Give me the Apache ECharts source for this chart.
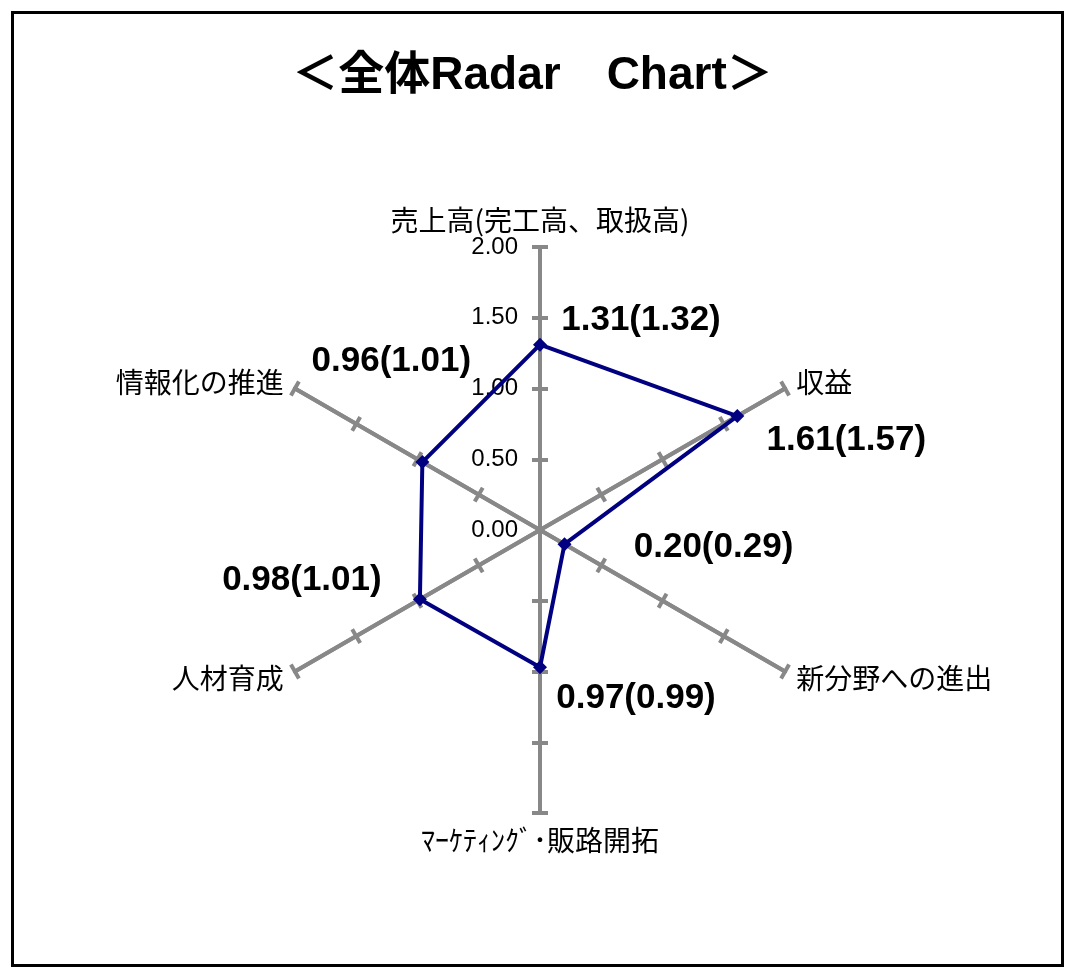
<!DOCTYPE html>
<html>
<head>
<meta charset="utf-8">
<script src="https://cdn.jsdelivr.net/npm/echarts@6/dist/echarts.min.js"></script>
<style>
	html, body { margin: 0; padding: 0; background: #fff; }
	#main { width: 1065px; height: 967px; }
</style>
</head>
<body>
<div id="main"></div>
<script>
// axes in drawing order (counter-clockwise from the top)
var axisNames = ['売上高(完工高、取扱高)', '情報化の推進', '人材育成', 'ﾏｰｹﾃｨﾝｸﾞ･販路開拓', '新分野への進出', '収益'];
var currentValues = [1.31, 0.96, 0.98, 0.97, 0.20, 1.61];
var previousValues = [1.32, 1.01, 1.01, 0.99, 0.29, 1.57];
var tickLabels = [0, 0.5, 1, 1.5, 2];

// where each value label sits, relative to its point
var labelOffsets = [[101, -24], [-31, -101], [-118, -19], [96, 31], [149, 3], [109, 24]];

var latinFont = "'Liberation Sans', 'Noto Sans CJK JP', sans-serif";
var cjkFont = "'Noto Sans CJK JP', sans-serif";

var myChart = echarts.init(document.getElementById('main'));

var indicators = axisNames.map(function(n) {
	return { name: n, min: 0, max: 2 };
});

var baseRadar = {
	center: [540, 530],
	radius: 283,
	startAngle: 90,
	splitNumber: 4,
	shape: 'polygon',
	indicator: indicators,
	splitLine: { show: false },
	splitArea: { show: false },
	axisLabel: { show: false },
	axisLine: { lineStyle: { color: '#888', width: 4 } }
};

var series = [{
	type: 'radar',
	radarIndex: 0,
	z: 5,
	symbol: 'diamond',
	symbolSize: 14,
	lineStyle: { color: '#000080', width: 4 },
	itemStyle: { color: '#000080' },
	label: { show: false },
	data: [{ value: currentValues }]
}];

// one label-only series per axis, so each label can have its own offset
currentValues.forEach(function(v, i) {
	series.push({
		type: 'radar',
		radarIndex: 0,
		z: 6,
		silent: true,
		symbol: 'circle',
		symbolSize: 1,
		lineStyle: { opacity: 0 },
		itemStyle: { color: 'rgba(0,0,0,0)' },
		label: {
			show: true,
			position: 'inside',
			offset: labelOffsets[i],
			color: '#000',
			fontFamily: latinFont,
			fontSize: 35,
			fontWeight: 'bold',
			formatter: function(p) {
				if (p.value !== v) return '';
				return v.toFixed(2) + '(' + previousValues[i].toFixed(2) + ')';
			}
		},
		data: [{ value: currentValues }]
	});
});

// ticks at every step except the centre
var tickValues = tickLabels.slice(1);

var option = {
	backgroundColor: '#fff',
	animation: false,
	title: {
		text: '＜全体Radar　Chart＞',
		left: 'center',
		top: 48,
		textStyle: {
			fontFamily: latinFont,
			fontSize: 46,
			fontWeight: 'bold',
			color: '#000'
		}
	},
	graphic: [{
		type: 'rect',
		shape: { x: 12.5, y: 12.5, width: 1050, height: 953 },
		style: { fill: 'none', stroke: '#000', lineWidth: 3 },
		silent: true,
		z: 100
	}],
	radar: [
		Object.assign({}, baseRadar, {
			axisName: {
				color: '#000',
				fontFamily: cjkFont,
				fontSize: 28
			},
			nameGap: 13,
			axisTick: { show: true, customValues: tickValues, length: 8, lineStyle: { color: '#888', width: 4 } }
		}),
		// second copy only to draw the other half of each tick
		Object.assign({}, baseRadar, {
			axisName: { show: false },
			axisTick: { show: true, customValues: tickValues, length: -8, lineStyle: { color: '#888', width: 4 } }
		})
	],
	// value scale printed beside the top axis
	grid: { left: 540, width: 1, top: 247, height: 283 },
	xAxis: { type: 'value', show: false },
	yAxis: {
		type: 'value',
		min: tickLabels[0],
		max: tickLabels[tickLabels.length - 1],
		interval: 0.5,
		axisLine: { show: false },
		axisTick: { show: false },
		splitLine: { show: false },
		axisLabel: {
			margin: 22,
			color: '#000',
			fontFamily: latinFont,
			fontSize: 24,
			formatter: function(v) { return v.toFixed(2); }
		}
	},
	series: series
};

myChart.setOption(option);
</script>
</body>
</html>
